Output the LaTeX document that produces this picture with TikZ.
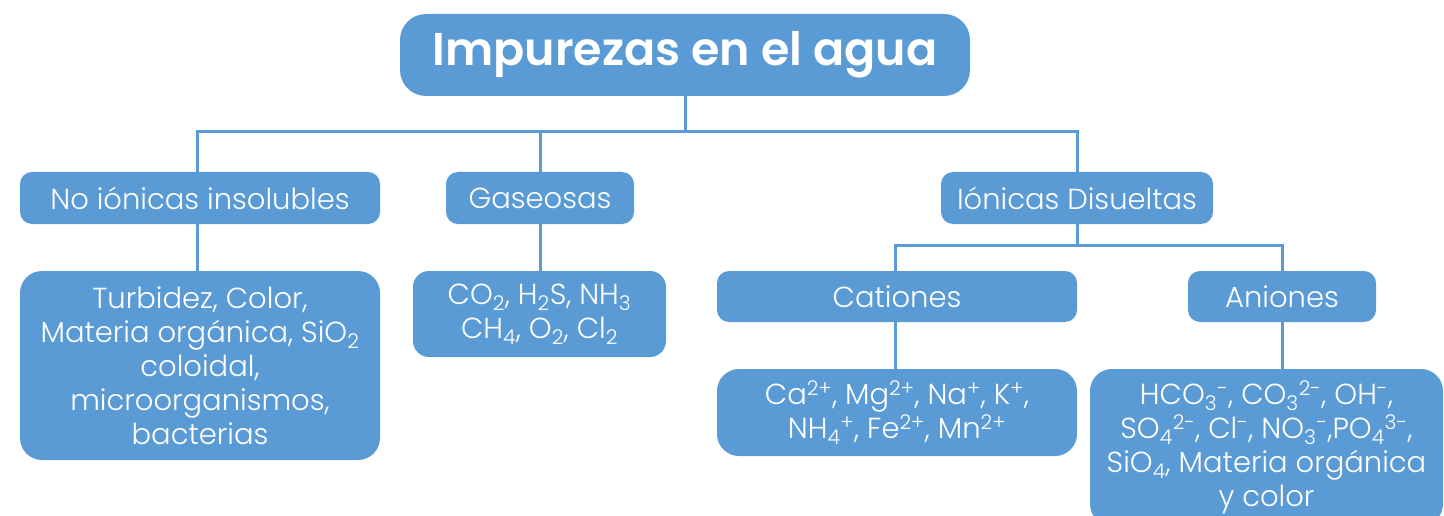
\documentclass[tikz,border=0pt]{standalone}
\usepackage{fontspec}
\setmainfont{Poppins}[UprightFont=* Light, BoldFont=* SemiBold]
\definecolor{boxblue}{HTML}{5B9BD5}
\tikzset{
  box/.style={fill=boxblue, text=white, inner sep=0pt, align=center, font=\fontsize{29}{34}\selectfont},
  conn/.style={draw=boxblue, line width=3pt}
}
\begin{document}
\begin{tikzpicture}[x=1pt,y=-1pt]
\useasboundingbox (0,0) rectangle (1444,516);
\clip (0,0) rectangle (1444,516);
% title
\node[box, rounded corners=26pt, minimum width=570pt, minimum height=82pt, font=\fontsize{46}{50}\selectfont\bfseries] (title) at (685,55) {Impurezas en el agua};
% level 1
\node[box, rounded corners=12pt, minimum width=360pt, minimum height=52pt] (noi) at (200,198) {No iónicas insolubles};
\node[box, rounded corners=12pt, minimum width=188pt, minimum height=52pt] (gas) at (540,198) {Gaseosas};
\node[box, rounded corners=12pt, minimum width=272pt, minimum height=52pt] (ion) at (1077,198) {Iónicas Disueltas};
% details
\node[box, rounded corners=22pt, minimum width=360pt, minimum height=189pt] (noid) at (200,365.5) {Turbidez, Color,\\Materia orgánica, SiO\textsubscript{2}\\coloidal,\\microorganismos,\\bacterias};
\node[box, rounded corners=16pt, minimum width=253pt, minimum height=86pt] (gasd) at (539.5,314) {CO\textsubscript{2}, H\textsubscript{2}S, NH\textsubscript{3}\\CH\textsubscript{4}, O\textsubscript{2}, Cl\textsubscript{2}};
% ionic children
\node[box, rounded corners=12pt, minimum width=360pt, minimum height=51pt] (cat) at (897,296.5) {Cationes};
\node[box, rounded corners=12pt, minimum width=188pt, minimum height=51pt] (ani) at (1282,296.5) {Aniones};
\node[box, rounded corners=22pt, minimum width=360pt, minimum height=87pt] (catd) at (897,412.5) {Ca\textsuperscript{2+}, Mg\textsuperscript{2+}, Na\textsuperscript{+}, K\textsuperscript{+},\\NH\textsubscript{4}\textsuperscript{+}, Fe\textsuperscript{2+}, Mn\textsuperscript{2+}};
\node[box, rounded corners=22pt, minimum width=353pt, minimum height=157pt] (anid) at (1266.5,447.5) {HCO\textsubscript{3}\textsuperscript{-}, CO\textsubscript{3}\textsuperscript{2-}, OH\textsuperscript{-},\\SO\textsubscript{4}\textsuperscript{2-}, Cl\textsuperscript{-}, NO\textsubscript{3}\textsuperscript{-},PO\textsubscript{4}\textsuperscript{3-},\\SiO\textsubscript{4}, Materia orgánica\\y color};
% connectors
\coordinate (bus) at (685,132);
\coordinate (bus2) at (1077,245);
\draw[conn] (title.south) -- (bus);
\draw[conn] ([xshift=-3pt]noi.north) |- (ion.north |- bus) -- (ion.north);
\draw[conn] (gas.north) -- (gas.north |- bus);
\draw[conn] ([xshift=-3pt]noi.south) -- ([xshift=-3pt]noid.north);
\draw[conn] (gas.south) -- (gas.south |- gasd.north);
\draw[conn] (ion.south) -- (bus2);
\draw[conn] ([xshift=-2pt]cat.north) |- (ani.north |- bus2) -- (ani.north);
\draw[conn] ([xshift=-2pt]cat.south) -- ([xshift=-2pt]catd.north);
\draw[conn] (ani.south) -- (ani.south |- anid.north);
\end{tikzpicture}
\end{document}
